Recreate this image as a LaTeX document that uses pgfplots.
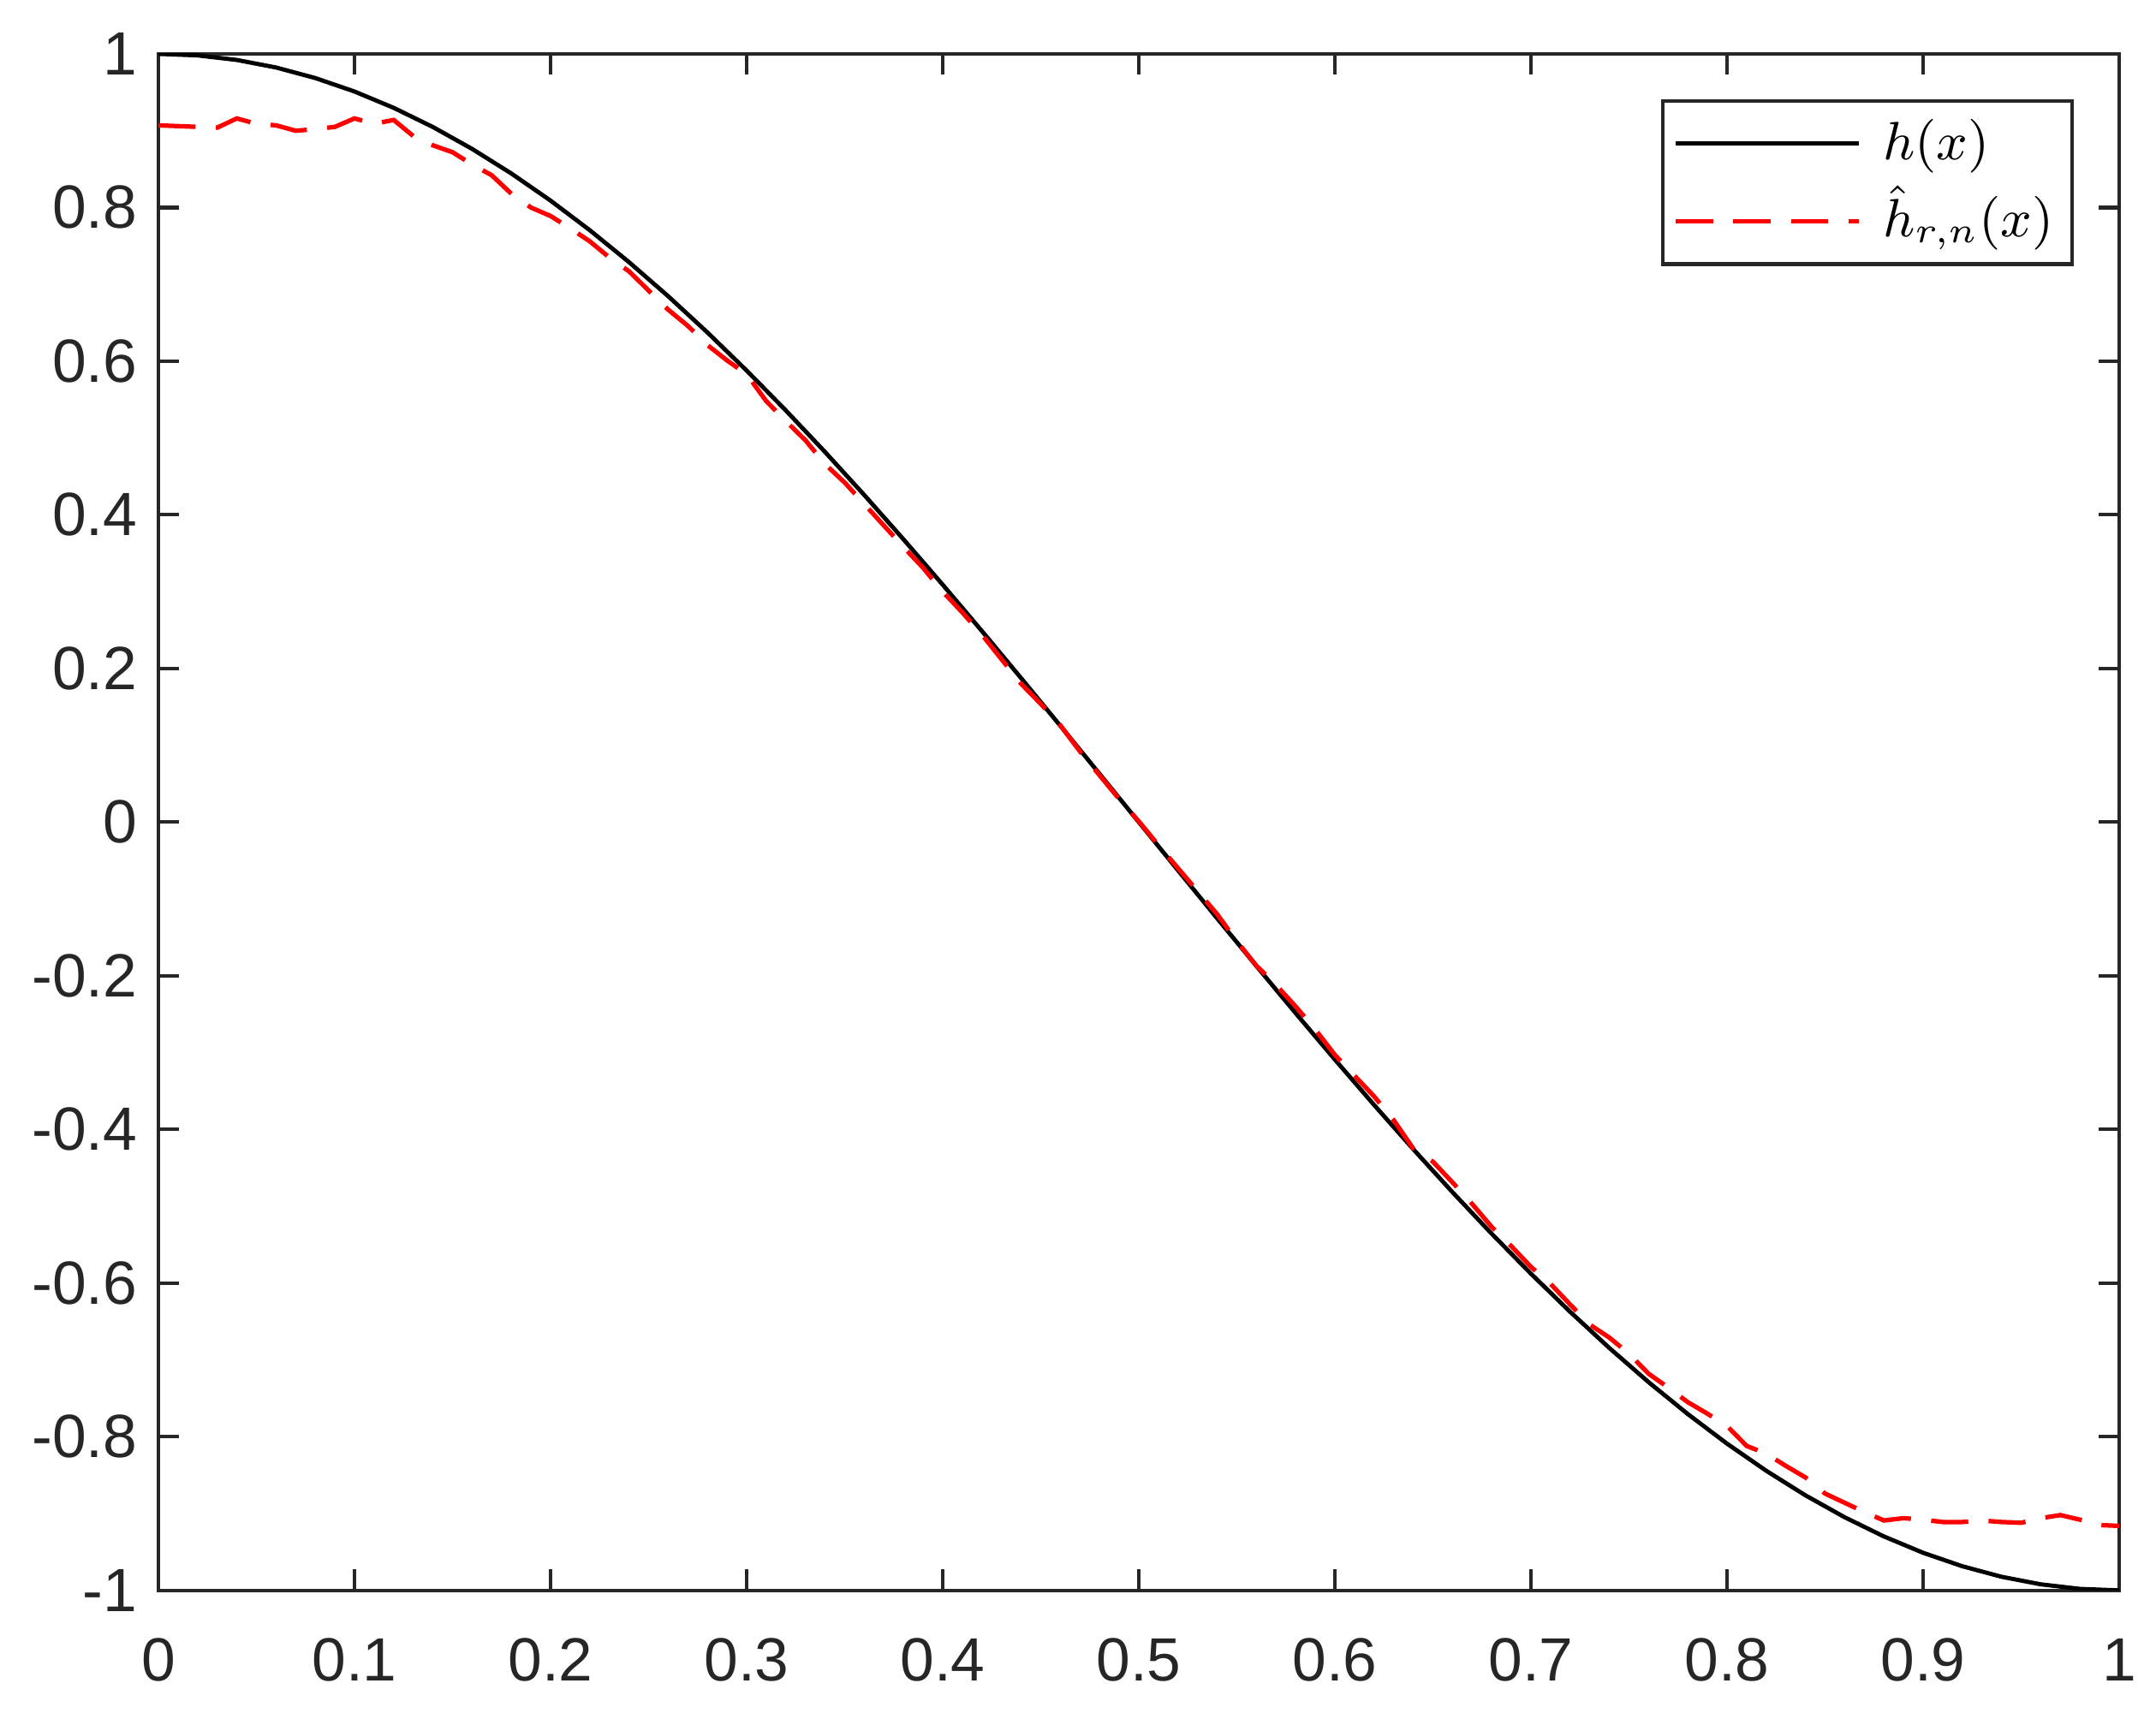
\documentclass[border=0pt]{standalone}
\usepackage{fontspec}
\setmainfont{Liberation Sans}
\usepackage{pgfplots}
\pgfplotsset{compat=1.18}
\definecolor{axgray}{rgb}{0.15,0.15,0.15}

\begin{document}
\begin{tikzpicture}
\begin{axis}[
    name=ax,
    scale only axis,
    width=327.4pt, height=256.6pt,
    xmin=0, xmax=1, ymin=-1, ymax=1,
    xtick={0,0.1,0.2,0.3,0.4,0.5,0.6,0.7,0.8,0.9,1},
    xticklabels={0,0.1,0.2,0.3,0.4,0.5,0.6,0.7,0.8,0.9,1},
    ytick={-1,-0.8,-0.6,-0.4,-0.2,0,0.2,0.4,0.6,0.8,1},
    yticklabels={-1,-0.8,-0.6,-0.4,-0.2,0,0.2,0.4,0.6,0.8,1},
    tick align=inside,
    major tick length=3.5pt,
    tick style={axgray, line width=0.6pt},
    axis line style={axgray, line width=0.6pt},
    ticklabel style={font=\fontsize{10.2}{12}\selectfont, text=axgray},
    xticklabel style={yshift=-4.5pt},
    /pgf/number format/assume math mode=true,
    legend style={at={(1,1)}, anchor=north east, xshift=-7.6pt, yshift=-7.6pt,
        draw=axgray, line width=0.6pt, font=\fontsize{8.7}{10}\selectfont,
        inner xsep=1.8pt, inner ysep=0.6pt, row sep=0pt,
        nodes={inner xsep=1.25pt, inner ysep=1.3pt, text height=7.8pt, text depth=2.6pt}},
    legend cell align=left,
    legend image code/.code={\draw[#1] (0pt,0pt) -- (30.5pt,0pt); \path (33pt,0pt);},
]
% h(x)
\addplot[black, line width=0.7pt] coordinates {
(0,1) (0.02,0.99803) (0.04,0.99211) (0.06,0.98229) (0.08,0.96858) (0.10,0.95106)
(0.12,0.92978) (0.14,0.90483) (0.16,0.87631) (0.18,0.84433) (0.20,0.80902)
(0.22,0.77051) (0.24,0.72897) (0.26,0.68455) (0.28,0.63742) (0.30,0.58779)
(0.32,0.53583) (0.34,0.48175) (0.36,0.42578) (0.38,0.36812) (0.40,0.30902)
(0.42,0.24869) (0.44,0.18738) (0.46,0.12533) (0.48,0.06279) (0.50,0)
(0.52,-0.06279) (0.54,-0.12533) (0.56,-0.18738) (0.58,-0.24869) (0.60,-0.30902)
(0.62,-0.36812) (0.64,-0.42578) (0.66,-0.48175) (0.68,-0.53583) (0.70,-0.58779)
(0.72,-0.63742) (0.74,-0.68455) (0.76,-0.72897) (0.78,-0.77051) (0.80,-0.80902)
(0.82,-0.84433) (0.84,-0.87631) (0.86,-0.90483) (0.88,-0.92978) (0.90,-0.95106)
(0.92,-0.96858) (0.94,-0.98229) (0.96,-0.99211) (0.98,-0.99803) (1,-1)
};
% estimate
\addplot[red, line width=0.75pt, dash pattern=on 6.2pt off 3.4pt] coordinates {
(0.00,0.907) (0.01,0.906) (0.02,0.905) (0.03,0.904) (0.04,0.916) (0.05,0.909)
(0.06,0.907) (0.07,0.900) (0.08,0.902) (0.09,0.905) (0.10,0.916) (0.11,0.909)
(0.12,0.914) (0.13,0.893) (0.14,0.881) (0.15,0.872) (0.16,0.856) (0.17,0.842)
(0.18,0.818) (0.19,0.800) (0.20,0.789) (0.21,0.773) (0.22,0.756) (0.23,0.735)
(0.24,0.717) (0.25,0.692) (0.26,0.667) (0.27,0.646) (0.28,0.621) (0.29,0.601)
(0.30,0.583) (0.31,0.548) (0.32,0.522) (0.33,0.497) (0.34,0.466) (0.35,0.442)
(0.36,0.414) (0.37,0.386) (0.38,0.358) (0.39,0.331) (0.40,0.300) (0.41,0.273)
(0.42,0.244) (0.43,0.212) (0.44,0.180) (0.45,0.154) (0.46,0.126) (0.47,0.092)
(0.48,0.061) (0.49,0.030) (0.50,0.001) (0.51,-0.030) (0.52,-0.060) (0.53,-0.090)
(0.54,-0.120) (0.55,-0.155) (0.56,-0.187) (0.57,-0.212) (0.58,-0.240) (0.59,-0.270)
(0.60,-0.303) (0.61,-0.330) (0.62,-0.357) (0.63,-0.388) (0.64,-0.425) (0.65,-0.442)
(0.66,-0.469) (0.67,-0.497) (0.68,-0.527) (0.69,-0.552) (0.70,-0.579) (0.71,-0.601)
(0.72,-0.628) (0.73,-0.654) (0.74,-0.671) (0.75,-0.692) (0.76,-0.718) (0.77,-0.736)
(0.78,-0.755) (0.79,-0.770) (0.80,-0.786) (0.81,-0.812) (0.82,-0.822) (0.83,-0.838)
(0.84,-0.853) (0.85,-0.874) (0.86,-0.886) (0.87,-0.898) (0.88,-0.909) (0.89,-0.906)
(0.90,-0.908) (0.91,-0.911) (0.92,-0.911) (0.93,-0.909) (0.94,-0.911) (0.95,-0.912)
(0.96,-0.906) (0.97,-0.902) (0.98,-0.908) (0.99,-0.915) (1.00,-0.916)
};
\legend{$h(x)$, $\hat{h}_{r,n}(x)$}
\end{axis}
\pgfresetboundingbox
\path ([shift={(-26.45pt,-21.45pt)}]ax.south west) rectangle ([shift={(6.15pt,9pt)}]ax.north east);
\end{tikzpicture}
\end{document}
